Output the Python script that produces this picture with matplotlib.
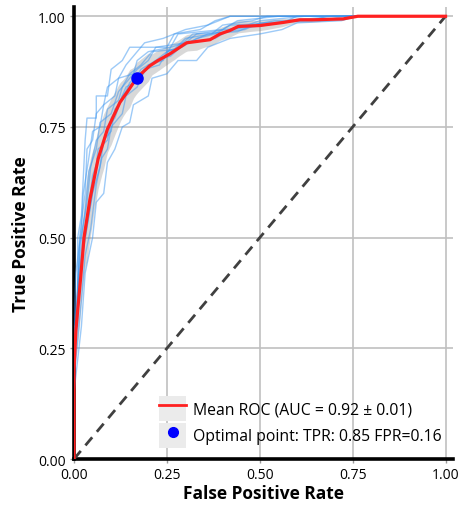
import numpy as np
import matplotlib
matplotlib.use("Agg")
import matplotlib.pyplot as plt
from matplotlib.patches import Rectangle
from matplotlib.lines import Line2D
from matplotlib.legend_handler import HandlerTuple

plt.rcParams['font.family'] = ['Open Sans', 'DejaVu Sans']

# ---- data ----
mean_fpr = [0, 0, 0.005, 0.018, 0.027, 0.043, 0.065, 0.09, 0.124, 0.146, 0.169, 0.204,
            0.226, 0.258, 0.303, 0.366, 0.393, 0.42, 0.442, 0.5, 0.563, 0.608, 0.643,
            0.724, 0.764, 1.0]
mean_tpr = [0, 0.2, 0.29, 0.41, 0.5, 0.587, 0.678, 0.745, 0.806, 0.832, 0.861, 0.888,
            0.9, 0.915, 0.94, 0.947, 0.96, 0.968, 0.977, 0.979, 0.986, 0.992, 0.992,
            0.994, 1.0, 1.0]

folds = [
    [(0,0),(0,0.3),(0.01,0.3),(0.01,0.5),(0.02,0.55),(0.03,0.72),(0.035,0.77),(0.06,0.77),(0.06,0.82),(0.09,0.82),(0.1,0.88),(0.13,0.9),(0.15,0.93),(0.25,0.93),(0.27,0.96),(0.34,0.97),(0.38,0.99),(0.42,1.0),(1,1)],
    [(0,0),(0,0.15),(0.02,0.3),(0.03,0.42),(0.05,0.5),(0.06,0.58),(0.08,0.6),(0.09,0.67),(0.11,0.7),(0.13,0.75),(0.15,0.76),(0.16,0.8),(0.2,0.82),(0.21,0.86),(0.25,0.87),(0.28,0.9),(0.33,0.9),(0.36,0.93),(0.42,0.95),(0.5,0.96),(0.56,0.97),(0.6,0.985),(0.72,0.99),(0.76,1.0),(1,1)],
    [(0,0),(0,0.25),(0.01,0.35),(0.015,0.48),(0.03,0.56),(0.04,0.65),(0.06,0.7),(0.07,0.76),(0.1,0.78),(0.12,0.83),(0.14,0.85),(0.17,0.88),(0.2,0.9),(0.22,0.93),(0.3,0.94),(0.33,0.96),(0.45,0.975),(0.5,0.99),(0.62,1.0),(1,1)],
    [(0,0),(0,0.2),(0.01,0.32),(0.02,0.45),(0.03,0.5),(0.05,0.6),(0.07,0.66),(0.08,0.72),(0.1,0.74),(0.11,0.79),(0.13,0.81),(0.15,0.85),(0.19,0.88),(0.22,0.9),(0.26,0.91),(0.3,0.94),(0.38,0.95),(0.42,0.97),(0.52,0.98),(0.58,0.99),(0.7,1.0),(1,1)],
    [(0,0),(0,0.3),(0.005,0.42),(0.02,0.52),(0.025,0.6),(0.04,0.68),(0.05,0.74),(0.07,0.75),(0.08,0.8),(0.11,0.82),(0.12,0.86),(0.16,0.87),(0.17,0.9),(0.2,0.92),(0.26,0.93),(0.28,0.96),(0.4,0.97),(0.44,0.99),(0.55,1.0),(1,1)],
    [(0,0),(0,0.22),(0.015,0.38),(0.025,0.47),(0.04,0.55),(0.055,0.63),(0.065,0.7),(0.09,0.72),(0.1,0.77),(0.12,0.8),(0.14,0.84),(0.18,0.86),(0.2,0.89),(0.24,0.9),(0.26,0.93),(0.32,0.945),(0.36,0.96),(0.46,0.97),(0.5,0.985),(0.64,0.99),(0.68,1.0),(1,1)],
    [(0,0),(0,0.28),(0.01,0.4),(0.02,0.5),(0.035,0.58),(0.045,0.66),(0.06,0.72),(0.08,0.74),(0.09,0.79),(0.12,0.81),(0.13,0.84),(0.15,0.87),(0.18,0.89),(0.21,0.92),(0.27,0.925),(0.3,0.95),(0.37,0.96),(0.4,0.98),(0.48,0.99),(0.52,1.0),(1,1)],
    [(0,0),(0,0.18),(0.02,0.36),(0.03,0.46),(0.045,0.52),(0.06,0.62),(0.075,0.68),(0.09,0.7),(0.1,0.75),(0.13,0.78),(0.14,0.82),(0.17,0.84),(0.19,0.88),(0.23,0.89),(0.25,0.92),(0.29,0.93),(0.33,0.95),(0.38,0.96),(0.42,0.98),(0.56,0.985),(0.6,1.0),(1,1)],
    [(0,0),(0,0.26),(0.01,0.38),(0.015,0.5),(0.03,0.6),(0.035,0.7),(0.05,0.72),(0.06,0.78),(0.08,0.8),(0.09,0.84),(0.12,0.86),(0.14,0.89),(0.16,0.91),(0.19,0.94),(0.24,0.95),(0.3,0.97),(0.36,0.98),(0.42,1.0),(1,1)],
    [(0,0),(0,0.24),(0.012,0.4),(0.025,0.5),(0.04,0.57),(0.05,0.64),(0.07,0.69),(0.09,0.75),(0.11,0.77),(0.13,0.82),(0.16,0.85),(0.18,0.88),(0.22,0.9),(0.25,0.92),(0.28,0.93),(0.32,0.96),(0.44,0.965),(0.48,0.98),(0.54,0.99),(0.66,0.99),(0.73,1.0),(1,1)],
]

opt_fpr = 0.169
opt_tpr = 0.861
mean_label = "Mean ROC (AUC = 0.92 ± 0.01)"
opt_label = "Optimal point: TPR: 0.85 FPR=0.16"
ticks = [0.0, 0.25, 0.5, 0.75, 1.0]
tick_labels = ["0.00", "0.25", "0.50", "0.75", "1.00"]

# ---- figure ----
fig = plt.figure(figsize=(4.61, 5.06), dpi=100)
ax = fig.add_axes([0.1605, 0.0909, 0.9826 - 0.1605, 0.9834 - 0.0909])

ax.grid(True, color='#c0c0c0', linewidth=1.2, zorder=0)
ax.set_axisbelow(True)

# std band from the folds
grid_x = np.linspace(0, 1, 201)
fold_interp = []
for f in folds:
    fx = np.array([p[0] for p in f])
    fy = np.array([p[1] for p in f])
    fold_interp.append(np.interp(grid_x, fx, fy))
fold_interp = np.array(fold_interp)
std = fold_interp.std(axis=0)
m = np.interp(grid_x, mean_fpr[1:], mean_tpr[1:])
ax.fill_between(grid_x, np.clip(m - std, 0, 1), np.clip(m + std, 0, 1),
                color='grey', alpha=0.3, linewidth=0, zorder=2)

for f in folds:
    ax.plot([p[0] for p in f], [p[1] for p in f], color='#3c96f0', alpha=0.5,
            linewidth=1.0, zorder=3)

ax.plot([0, 1], [0, 1], color='#404040', linewidth=2.0, dashes=(3.8, 2.6), zorder=3)
ax.plot(mean_fpr, mean_tpr, color='#ff2020', linewidth=2.3, zorder=4)
ax.plot([opt_fpr], [opt_tpr], 'o', color='#0000ff', markersize=8, zorder=5)

ax.set_xlim(0, 1.02)
ax.set_ylim(0, 1.02)
ax.set_xticks(ticks)
ax.set_xticklabels(tick_labels)
ax.set_yticks(ticks)
ax.set_yticklabels(tick_labels)
ax.tick_params(axis='both', labelsize=10, length=3, width=1, color='#999999', pad=3)

for s in ['top', 'right']:
    ax.spines[s].set_visible(False)
for s in ['left', 'bottom']:
    ax.spines[s].set_linewidth(2.6)
    ax.spines[s].set_color('black')

ax.set_xlabel("False Positive Rate", fontsize=12.5, fontweight='bold', labelpad=1)
ax.set_ylabel("True Positive Rate", fontsize=12.5, fontweight='bold', labelpad=6)

bg1 = Rectangle((0, 0), 1, 1, facecolor='#ebebeb', edgecolor='none')
bg2 = Rectangle((0, 0), 1, 1, facecolor='#ebebeb', edgecolor='none')
h1 = Line2D([], [], color='#ff2020', linewidth=2.0)
h2 = Line2D([], [], marker='o', linestyle='none', color='#0000ff', markersize=7)
leg = ax.legend([(bg1, h1), (bg2, h2)], [mean_label, opt_label],
                handler_map={tuple: HandlerTuple(ndivide=1, pad=0)},
                loc='lower right', bbox_to_anchor=(1.0, 0.0), frameon=False,
                fontsize=11.3, handlelength=1.75, handleheight=2.1,
                labelspacing=0.1, handletextpad=0.45, borderaxespad=0.3)

fig.savefig("out.png", dpi=100)
